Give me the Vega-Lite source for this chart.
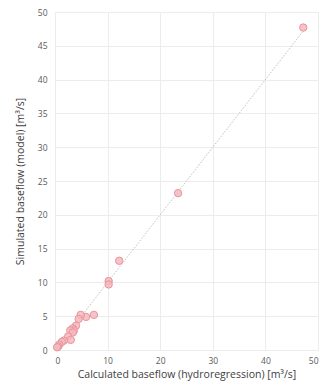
{
  "$schema": "https://vega.github.io/schema/vega-lite/v6.json",
  "autosize": "none",
  "width": 263,
  "height": 338,
  "padding": {"left": 55, "top": 12, "right": 2, "bottom": 42},
  "background": "white",
  "config": {
    "view": {"stroke": null},
    "axis": {
      "labelFont": "Open Sans",
      "titleFont": "Open Sans",
      "labelColor": "#595959",
      "titleColor": "#404040",
      "labelFontSize": 8.5,
      "titleFontSize": 10.5,
      "titleFontWeight": "normal",
      "gridColor": "#ececec",
      "domain": false,
      "ticks": false,
      "labelOverlap": false
    }
  },
  "datasets": {
    "pts": [
      {"calc": 47.2, "sim": 47.7},
      {"calc": 23.4, "sim": 23.2},
      {"calc": 12.2, "sim": 13.2},
      {"calc": 10.2, "sim": 10.2},
      {"calc": 10.2, "sim": 9.7},
      {"calc": 7.4, "sim": 5.2},
      {"calc": 5.9, "sim": 4.9},
      {"calc": 4.9, "sim": 5.2},
      {"calc": 4.5, "sim": 4.6},
      {"calc": 4.0, "sim": 3.6},
      {"calc": 3.4, "sim": 3.2},
      {"calc": 3.6, "sim": 2.9},
      {"calc": 2.9, "sim": 2.9},
      {"calc": 3.4, "sim": 2.6},
      {"calc": 2.5, "sim": 2.0},
      {"calc": 3.0, "sim": 1.5},
      {"calc": 1.7, "sim": 1.4},
      {"calc": 1.3, "sim": 1.2},
      {"calc": 0.8, "sim": 0.8},
      {"calc": 0.6, "sim": 0.5},
      {"calc": 0.4, "sim": 0.4}
    ],
    "line": [
      {"calc": 0, "sim": 0},
      {"calc": 47.5, "sim": 47.5}
    ]
  },
  "encoding": {
    "x": {
      "field": "calc", "type": "quantitative",
      "scale": {"domain": [0, 50], "nice": false},
      "axis": {"values": [0, 10, 20, 30, 40, 50], "labelPadding": 6, "title": "Calculated baseflow (hydroregression) [m³/s]", "titlePadding": 5}
    },
    "y": {
      "field": "sim", "type": "quantitative",
      "scale": {"domain": [0, 50], "nice": false},
      "axis": {"values": [0, 5, 10, 15, 20, 25, 30, 35, 40, 45, 50], "labelPadding": 8, "title": "Simulated baseflow (model) [m³/s]", "titlePadding": 12}
    }
  },
  "layer": [
    {
      "data": {"name": "line"},
      "mark": {"type": "line", "color": "#b0b0b0", "strokeWidth": 0.8, "strokeDash": [1.5, 1.5]}
    },
    {
      "data": {"name": "pts"},
      "mark": {"type": "point", "filled": true, "fill": "#f5b8bd", "stroke": "#e8959c", "strokeWidth": 1, "size": 55, "opacity": 1, "fillOpacity": 0.85}
    }
  ]
}
